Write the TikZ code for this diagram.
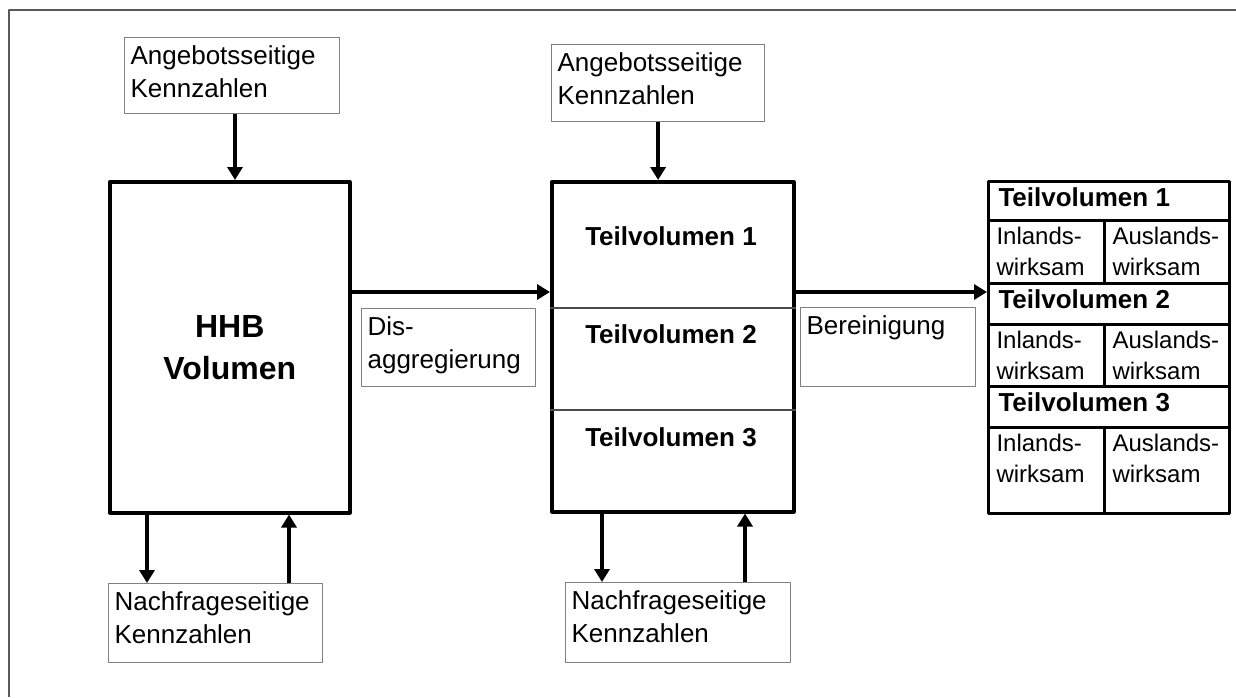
\documentclass[tikz,border=0pt]{standalone}
\usepackage{fontspec}
\setmainfont{Liberation Sans}
\usetikzlibrary{arrows.meta}
% text set at the top left of a box: width, height, text
\newcommand{\kz}[3]{\parbox[c][#2][t]{#1}{\raggedright\strut #3}}
\begin{document}
\begin{tikzpicture}[x=0.5pt,y=-0.5pt,line join=round,>={Triangle[length=6.5pt,width=7.5pt]},
	kbox/.style={draw=black!50,line width=0.6pt,anchor=north west,inner xsep=3pt,inner ysep=2pt,font=\fontsize{13}{16.5}\selectfont},
	vbox/.style={draw=black,line width=1.75pt,anchor=north west,inner sep=0pt},
	tvhead/.style={draw=black,line width=1.5pt,anchor=north west,inner xsep=5pt,inner ysep=2pt,font=\fontsize{13}{15}\selectfont\bfseries},
	tvcell/.style={draw=black,line width=1.5pt,anchor=north west,inner xsep=4pt,inner ysep=1pt,font=\fontsize{12}{15.5}\selectfont},
	tvlabel/.style={font=\fontsize{13}{16}\selectfont\bfseries},
	arr/.style={->,line width=2pt}]
	\useasboundingbox (0,0) rectangle (1236,697);
	\draw[black!65,line width=0.75pt] (9,697)--(9,10)--(1236,10);
	% linke Spalte
	\node[kbox] (ang1) at (124,37) {\kz{101.5pt}{34pt}{Angebotsseitige\\Kennzahlen}};
	\node[vbox,minimum width=120pt,minimum height=165.5pt,align=center,font=\fontsize{16}{21}\selectfont\bfseries] (hhb) at (108,180) {HHB\\Volumen};
	\node[kbox] (nach1) at (108,583) {\kz{101pt}{35.5pt}{Nachfrageseitige\\Kennzahlen}};
	\node[kbox] (dis) at (361,308) {\kz{81pt}{35pt}{Dis-\\aggregierung}};
	% mittlere Spalte
	\node[kbox] (ang2) at (551,44) {\kz{100.5pt}{34.5pt}{Angebotsseitige\\Kennzahlen}};
	\node[vbox,minimum width=121pt,minimum height=165pt] (mid) at (550,180) {};
	\draw[black!70,line width=0.6pt] (mid.west |- 0,308)--(mid.east |- 0,308);
	\draw[black!70,line width=0.6pt] (mid.west |- 0,410)--(mid.east |- 0,410);
	\foreach \i/\y in {1/236,2/334,3/437}{\node[tvlabel] (m\i) at (671,\y) {Teilvolumen \i};}
	\node[kbox] (nach2) at (565,582) {\kz{106.5pt}{36pt}{Nachfrageseitige\\Kennzahlen}};
	\node[kbox] (ber) at (800,307) {\kz{81.5pt}{35.5pt}{Bereinigung}};
	% rechte Tabelle
	\foreach \i/\yh/\hh/\yc/\hc in {1/180/15.5/219/29.5,2/282/16.5/323/29,3/385/16.5/426/41}{
		\node[tvhead] (tv\i) at (987,\yh) {\kz{110.5pt}{\hh pt}{Teilvolumen \i}};
		\node[tvcell] (in\i) at (987,\yc) {\kz{50pt}{\hc pt}{Inlands-\\wirksam}};
		\node[tvcell] (aus\i) at (1103,\yc) {\kz{54.5pt}{\hc pt}{Auslands-\\wirksam}};
	}
	% Pfeile
	\draw[arr] (235,0 |- ang1.south)--(235,0 |- hhb.north);
	\draw[arr] (147,0 |- hhb.south)--(147,0 |- nach1.north);
	\draw[arr] (289,0 |- nach1.north)--(289,0 |- hhb.south);
	\draw[arr] (hhb.east |- 0,292)--(mid.west |- 0,292);
	\draw[arr] (ang2.south)--(ang2.south |- mid.north);
	\draw[arr] (602,0 |- mid.south)--(602,0 |- nach2.north);
	\draw[arr] (745,0 |- nach2.north)--(745,0 |- mid.south);
	\draw[arr] (mid.east |- 0,292)--(tv2.west |- 0,292);
\end{tikzpicture}
\end{document}
